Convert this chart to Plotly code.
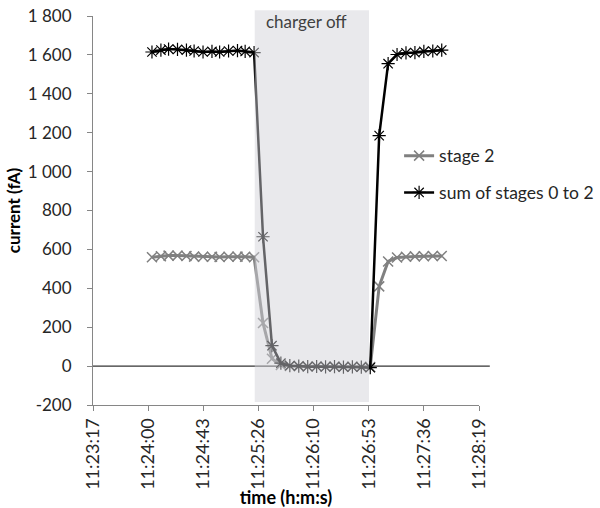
import plotly.graph_objects as go

# Sample timestamps (h:m:s)
times = [
    "11:24:03", "11:24:10", "11:24:16", "11:24:23", "11:24:30", "11:24:36",
    "11:24:43", "11:24:50", "11:24:56", "11:25:03", "11:25:10", "11:25:16",
    "11:25:23", "11:25:30", "11:25:37", "11:25:44", "11:25:51", "11:25:58",
    "11:26:05", "11:26:12", "11:26:19", "11:26:26", "11:26:33", "11:26:40",
    "11:26:47", "11:26:54", "11:27:01", "11:27:08", "11:27:15", "11:27:22",
    "11:27:29", "11:27:36", "11:27:43", "11:27:50",
]

# Currents in fA
stage2 = [
    560, 565, 568, 568, 566, 563, 562, 562, 561, 562, 563, 562,
    560, 222, 38, 6, 1, 0, -2, -1, -2, -2, -3, -2,
    -3, -5, 410, 538, 558, 562, 564, 565, 566, 566,
]
total = [
    1615, 1625, 1630, 1628, 1625, 1620, 1615, 1618, 1615, 1620, 1622, 1618,
    1612, 665, 105, 15, 2, 0, -3, -2, -4, -3, -5, -4,
    -5, -8, 1185, 1555, 1602, 1610, 1612, 1618, 1620, 1625,
]

# Charger-off interval
charger_off = ("11:25:23.5", "11:26:53")

# Time axis: start, step and number of major ticks (seconds)
axis_start = "11:23:16.8"
axis_step = 43.2
axis_ticks = 8

y_ticks = [-200, 0, 200, 400, 600, 800, 1000, 1200, 1400, 1600, 1800]


def to_sec(s):
    h, m, sec = s.split(":")
    return int(h) * 3600 + int(m) * 60 + float(sec)


def fmt_hms(sec):
    sec = int(round(sec))
    return f"{sec // 3600}:{(sec % 3600) // 60:02d}:{sec % 60:02d}"


def fmt_num(v):
    s = f"{abs(v):,}".replace(",", " ")
    return ("-" if v < 0 else "") + s


x = [to_sec(t) for t in times]
x0 = to_sec(axis_start)
xticks = [x0 + i * axis_step for i in range(axis_ticks)]

FONT = "Lato"
TEXT = "#262626"

fig = go.Figure()
fig.add_trace(go.Scatter(
    x=x, y=stage2, name="stage 2", mode="lines+markers",
    line=dict(color="#808080", width=3),
    marker=dict(symbol="x-thin-open", size=10,
                line=dict(color="#a8a8a8", width=1.5)),
    legendgroup="a",
))
fig.add_trace(go.Scatter(
    x=x, y=total, name="sum of stages 0 to 2", mode="lines+markers",
    line=dict(color="#000000", width=2.5),
    marker=dict(symbol="asterisk-open", size=11,
                line=dict(color="#111111", width=1.2)),
    legendgroup="b",
))

# Horizontal line at zero, running a little past the plot edge
fig.add_shape(
    type="line", xref="paper", yref="y", x0=0, x1=1.028, y0=0, y1=0,
    line=dict(color="#000000", width=1), layer="below",
)

# Translucent band over the charger-off interval
fig.add_shape(
    type="rect", xref="x", yref="paper",
    x0=to_sec(charger_off[0]), x1=to_sec(charger_off[1]),
    y0=0.008, y1=1.015,
    fillcolor="rgba(210,210,216,0.48)", line=dict(width=0), layer="above",
)
fig.add_annotation(
    x=(to_sec(charger_off[0]) + to_sec(charger_off[1])) / 2, xref="x",
    y=0.985, yref="paper", yanchor="middle", xshift=-5,
    text="charger off", showarrow=False,
    font=dict(family=FONT, size=17, color="#404040"),
)

fig.update_layout(
    width=600, height=508,
    margin=dict(l=93, r=121, t=16, b=103, autoexpand=False),
    paper_bgcolor="white", plot_bgcolor="white",
    font=dict(family=FONT, size=17, color=TEXT),
    showlegend=True,
    legend=dict(
        x=0.793, xanchor="left", y=0.687, yanchor="top",
        bgcolor="rgba(0,0,0,0)", font=dict(family=FONT, size=17.5, color=TEXT),
        traceorder="grouped", tracegroupgap=11, itemwidth=30,
    ),
)

fig.update_xaxes(
    range=[x0, x0 + axis_step * (axis_ticks - 1)],
    tickvals=xticks, ticktext=[fmt_hms(v) for v in xticks],
    tickangle=-90, ticks="outside", ticklen=5, tickcolor="#868686",
    showline=True, linecolor="#868686", linewidth=1,
    showgrid=False, zeroline=False, automargin=False,
    tickfont=dict(family=FONT, size=18, color=TEXT),
    title=dict(text="<b>time (h:m:s)</b>", standoff=2,
               font=dict(family=FONT, size=18, color="#000000")),
)
fig.update_yaxes(
    range=[-200, 1800],
    tickvals=y_ticks, ticktext=[fmt_num(v) for v in y_ticks],
    ticks="outside", ticklen=5, tickcolor="#868686",
    showline=True, linecolor="#868686", linewidth=1,
    showgrid=False, zeroline=False, automargin=False,
    ticklabelstandoff=12,
    tickfont=dict(family=FONT, size=17, color=TEXT),
    title=dict(text="<b>current (fA)</b>", standoff=2,
               font=dict(family=FONT, size=17, color="#000000")),
)

fig.write_html("out.html")
